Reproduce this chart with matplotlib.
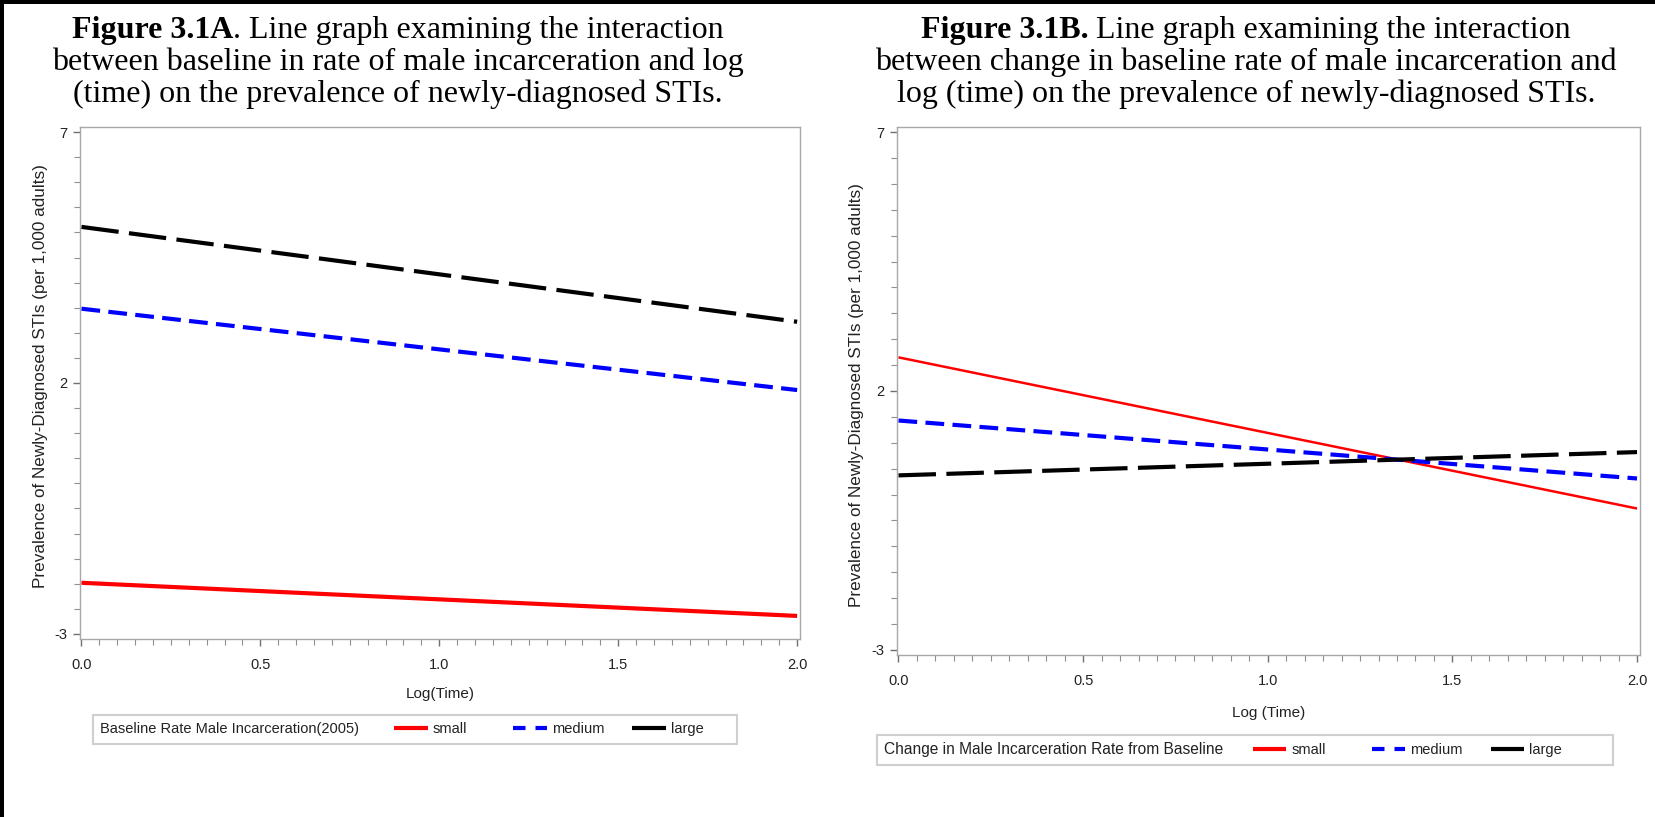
import matplotlib
matplotlib.use("Agg")
import matplotlib.pyplot as plt
from matplotlib.lines import Line2D
from matplotlib.patches import Rectangle
from matplotlib.offsetbox import HPacker, DrawingArea
from matplotlib.ticker import MultipleLocator

# ---------------- data ----------------
log_time = [0.0, 2.0]
groups = ["small", "medium", "large"]

a_small = [-1.98, -2.64]
a_medium = [3.48, 1.86]
a_large = [5.11, 3.22]

b_small = [2.65, -0.27]
b_medium = [1.43, 0.31]
b_large = [0.37, 0.82]

x_ticks = [0.0, 0.5, 1.0, 1.5, 2.0]
x_tick_labels = ["0.0", "0.5", "1.0", "1.5", "2.0"]
y_ticks = [-3, 2, 7]
y_tick_labels = ["-3", "2", "7"]

title_a = [("Figure 3.1A", ". Line graph examining the interaction"),
           "between baseline in rate of male incarceration and log",
           "(time) on the prevalence of newly-diagnosed STIs."]
title_b = [("Figure 3.1B.", " Line graph examining the interaction"),
           "between change in baseline rate of male incarceration and",
           "log (time) on the prevalence of newly-diagnosed STIs."]
ylabel = "Prevalence of Newly-Diagnosed STIs (per 1,000 adults)"
xlabel_a = "Log(Time)"
xlabel_b = "Log (Time)"
legend_title_a = "Baseline Rate Male Incarceration(2005)"
legend_title_b = "Change in Male Incarceration Rate from Baseline"

# ---------------- style ----------------
W, H = 1656, 817
SANS = ["Liberation Sans", "DejaVu Sans"]
SERIF = ["Liberation Serif", "DejaVu Serif"]
plt.rcParams["font.family"] = SANS

colors = {"small": "#ff0000", "medium": "#0000ff", "large": "#000000"}
dashes = {"small": None, "medium": (4.5, 2.0), "large": (9.0, 2.5)}
GRAY = "#a8a8a8"
TITLE_FS = 23

fig = plt.figure(figsize=(W / 100, H / 100), dpi=100)
fig.patch.set_facecolor("white")
renderer = fig.canvas.get_renderer()
DPICOR = renderer.points_to_pixels(1.0)


def px_rect(l, t, r, b):
    return [l / W, 1 - b / H, (r - l) / W, (b - t) / H]


# figure border (top + left)
fig.patches.append(Rectangle((0, 1 - 4 / H), 1, 4 / H, transform=fig.transFigure,
                             facecolor="black", edgecolor="none"))
fig.patches.append(Rectangle((0, 0), 4 / W, 1, transform=fig.transFigure,
                             facecolor="black", edgecolor="none"))


def draw_title(lines, xc, baselines):
    first_bold, first_rest = lines[0]
    t1 = fig.text(0, 1 - baselines[0] / H, first_bold, fontweight="bold",
                  family=SERIF, fontsize=TITLE_FS, va="baseline", ha="left")
    t2 = fig.text(0, 1 - baselines[0] / H, first_rest, family=SERIF,
                  fontsize=TITLE_FS, va="baseline", ha="left")
    w1 = t1.get_window_extent(renderer).width
    w2 = t2.get_window_extent(renderer).width
    x0 = xc - (w1 + w2) / 2
    t1.set_x(x0 / W)
    t2.set_x((x0 + w1) / W)
    for line, yb in zip(lines[1:], baselines[1:]):
        fig.text(xc / W, 1 - yb / H, line, family=SERIF, fontsize=TITLE_FS,
                 va="baseline", ha="center")


def make_panel(rect, series, lws, xlabel, leg_title, leg_anchor, xl_y, yl_x,
               yl_y, title_sep, leg_fs, pitch, last_w):
    ax = fig.add_axes(rect)
    for g, vals in zip(groups, series):
        ln, = ax.plot(log_time, vals, color=colors[g], lw=lws[g],
                      solid_capstyle="butt", dash_capstyle="butt", label=g)
        if dashes[g] is not None:
            ln.set_dashes(dashes[g])
    ax.set_xlim(-0.004, 2.008)
    ax.set_ylim(-3.1, 7.1)
    ax.set_xticks(x_ticks)
    ax.set_xticklabels(x_tick_labels)
    ax.set_yticks(y_ticks)
    ax.set_yticklabels(y_tick_labels)
    ax.xaxis.set_minor_locator(MultipleLocator(0.05))
    ax.yaxis.set_minor_locator(MultipleLocator(0.5))
    for s in ax.spines.values():
        s.set_color(GRAY)
        s.set_linewidth(1.0)
    ax.tick_params(which="major", direction="out", length=5, width=1,
                   color="#707070", labelsize=10.5, labelcolor="#222222")
    ax.tick_params(axis="x", which="major", pad=9)
    ax.tick_params(axis="y", which="major", pad=4)
    ax.tick_params(which="minor", direction="out", length=4, width=0.8,
                   color="#909090")
    ax.set_ylabel(ylabel, fontsize=12.3, color="#222222")
    ax.yaxis.set_label_coords(yl_x, yl_y)
    ax.set_xlabel(xlabel, fontsize=11, color="#222222")
    ax.xaxis.set_label_coords(0.5, xl_y)

    handles = []
    for g in groups:
        h = Line2D([], [], color=colors[g], lw=3.0, solid_capstyle="butt",
                   dash_capstyle="butt")
        if g == "medium":
            h.set_dashes((3.0, 2.4))
        handles.append(h)
    leg = fig.legend(handles, groups, ncol=3, loc="upper left",
                     bbox_to_anchor=leg_anchor, bbox_transform=fig.transFigure,
                     title=leg_title, title_fontsize=leg_fs, fontsize=10.5,
                     handlelength=2.3, handletextpad=0.35, columnspacing=0.0,
                     frameon=True, fancybox=False, borderpad=0.5,
                     borderaxespad=0)
    leg.get_frame().set_edgecolor("#c4c4c4")
    leg.get_frame().set_linewidth(1.5)
    for t in leg.get_texts():
        t.set_color("#222222")
    leg.get_title().set_color("#222222")

    # fixed-width legend columns
    cols = leg._legend_handle_box.get_children()
    for i, col in enumerate(cols):
        for item in col.get_children():
            w = item.get_bbox(renderer).width
            target = pitch if i < len(cols) - 1 else last_w
            extra = target - w - item.sep * DPICOR
            if extra > 0:
                item._children.append(DrawingArea(extra / DPICOR, 1))
    old = leg._legend_box
    new = HPacker(pad=old.pad, sep=title_sep, align="center",
                  children=[leg._legend_title_box, leg._legend_handle_box])
    new.set_figure(fig)
    new.set_offset(leg._findoffset)
    leg._legend_box = new
    return ax


draw_title(title_a, 398, [38, 70, 102])
draw_title(title_b, 1246, [38, 70, 102])

make_panel(px_rect(80, 127, 800, 639), [a_small, a_medium, a_large],
           {"small": 3.0, "medium": 3.0, "large": 3.0},
           xlabel_a, legend_title_a, (93 / W, 1 - 715 / H), -0.094, -0.044,
           0.514, 25, 10.5, 119, 98)
make_panel(px_rect(897, 127, 1640, 655), [b_small, b_medium, b_large],
           {"small": 1.8, "medium": 3.0, "large": 3.0},
           xlabel_b, legend_title_b, (877 / W, 1 - 735 / H), -0.097, -0.044,
           0.492, 21, 11.2, 119, 115)

fig.savefig("out.png", dpi=100, facecolor="white")
